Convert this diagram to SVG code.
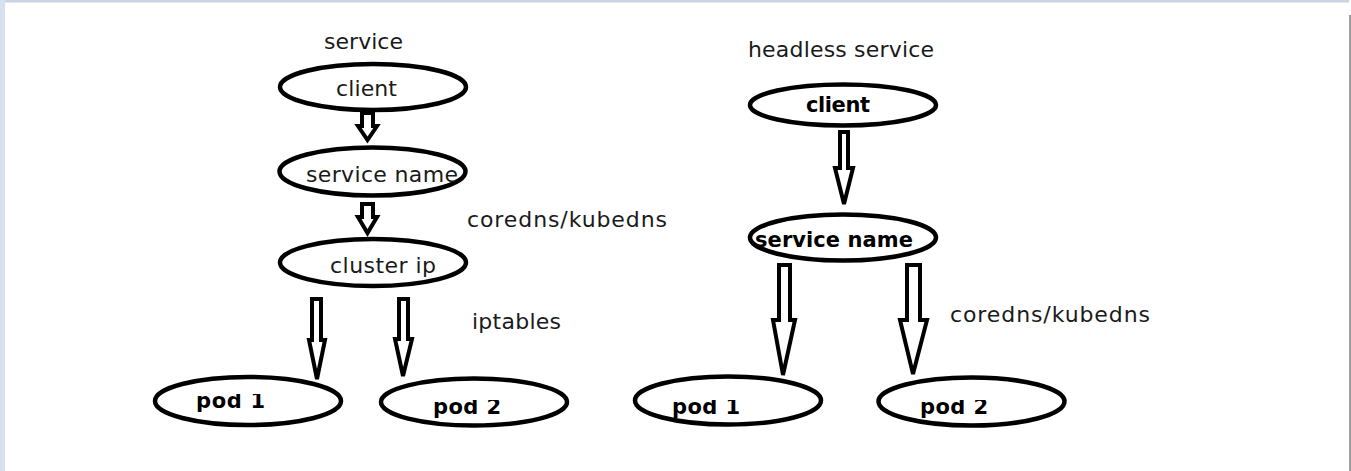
<svg xmlns="http://www.w3.org/2000/svg" width="1351" height="471" viewBox="0 0 1351 471">
<style>
.node{fill:#fff;stroke:#000;stroke-width:4.5}
.arr{fill:#fff;stroke:#000;stroke-width:4;stroke-linejoin:miter}
.t{font-family:"DejaVu Sans","Liberation Sans",sans-serif;font-size:22px;fill:#1a1a1a}
.b{font-family:"DejaVu Sans","Liberation Sans",sans-serif;font-size:21px;font-weight:bold;fill:#000}
</style>
<defs>
<clipPath id="c1"><rect x="150" y="394" width="200" height="40"/></clipPath>
<clipPath id="c2"><rect x="380" y="400" width="200" height="40"/></clipPath>
<clipPath id="c3"><rect x="630" y="400" width="200" height="40"/></clipPath>
<clipPath id="c4"><rect x="875" y="400" width="200" height="40"/></clipPath>
</defs>
<rect width="1351" height="471" fill="#fff"/>
<rect x="0" y="0" width="1349" height="2.5" fill="#c9d3e3"/>
<rect x="0" y="0" width="5" height="471" fill="#d6e0ee"/>
<rect x="1349" y="15" width="2" height="456" fill="#a0a0a0"/>

<g id="labels">
<text class="t" x="324" y="49" textLength="79">service</text>
<text class="t" x="467" y="227" textLength="200">coredns/kubedns</text>
<text class="t" x="472" y="329" textLength="89">iptables</text>
<text class="t" x="748" y="57" textLength="186">headless service</text>
<text class="t" x="950" y="322" textLength="200">coredns/kubedns</text>
</g>

<g id="connectors">
<polygon class="arr" points="362,113 373,113 373,126 377,126 367.5,140 358,126 362,126"/>
<polygon class="arr" points="362,204 373,204 373,217 377,217 367.5,233 358,217 362,217"/>
<polygon class="arr" points="312,299 321,299 321,340 325,340 317,379 309,340 312,340"/>
<polygon class="arr" points="399,299 408,299 408,339 412,339 403,376 395,339 399,339"/>
<polygon class="arr" points="840,132 848,132 848,168 853,168 844,204 835,168 840,168"/>
<polygon class="arr" points="779,265 790,265 790,320 795,320 783,375 773,320 779,320"/>
<polygon class="arr" points="907,265 920,265 920,320 927,320 913,374 900,320 907,320"/>
</g>

<g id="client-left">
<ellipse class="node" cx="373" cy="87" rx="93" ry="23"/>
<text class="t" x="336" y="96" textLength="61">client</text>
</g>
<g id="servicename-left">
<ellipse class="node" cx="372.5" cy="171.5" rx="93" ry="24"/>
<text class="t" x="306" y="182" textLength="152">service name</text>
</g>
<g id="clusterip">
<ellipse class="node" cx="373" cy="262.5" rx="93" ry="23.5"/>
<text class="t" x="330" y="273" textLength="106">cluster ip</text>
</g>
<g id="pod1-left">
<ellipse class="node" cx="248" cy="401" rx="93" ry="24"/>
<text class="b" x="196" y="408" textLength="69" clip-path="url(#c1)">pod 1</text>
</g>
<g id="pod2-left">
<ellipse class="node" cx="474" cy="402" rx="93" ry="23.5"/>
<text class="b" x="433" y="414" textLength="68" clip-path="url(#c2)">pod 2</text>
</g>

<g id="client-right">
<ellipse class="node" cx="843" cy="105" rx="93" ry="20.5"/>
<text class="b" x="806" y="112" textLength="64">client</text>
</g>
<g id="servicename-right">
<ellipse class="node" cx="843" cy="237.5" rx="93" ry="23"/>
<text class="b" x="755" y="247" textLength="158">service name</text>
</g>
<g id="pod1-right">
<ellipse class="node" cx="728" cy="400.5" rx="93" ry="24"/>
<text class="b" x="672" y="414" textLength="68" clip-path="url(#c3)">pod 1</text>
</g>
<g id="pod2-right">
<ellipse class="node" cx="971.5" cy="401.5" rx="93" ry="24"/>
<text class="b" x="920" y="414" textLength="68" clip-path="url(#c4)">pod 2</text>
</g>
</svg>
